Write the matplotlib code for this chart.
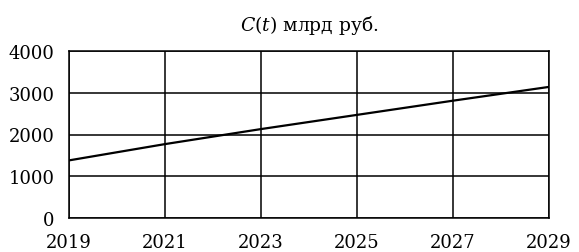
import matplotlib
matplotlib.use('Agg')
import matplotlib.pyplot as plt

years = [2019, 2021, 2023, 2025, 2027, 2029]
cost = [1380, 1770, 2130, 2470, 2810, 3140]
x_ticks = [2019, 2021, 2023, 2025, 2027, 2029]
y_ticks = [0, 1000, 2000, 3000, 4000]

plt.rcParams['font.family'] = 'DejaVu Serif'
plt.rcParams['mathtext.fontset'] = 'dejavuserif'

fig = plt.figure(figsize=(5.79, 2.53), dpi=100)
ax = fig.add_axes([69/579, 1 - 219/253, 480/579, 167/253])

ax.plot(years, cost, color='black', lw=1.6, zorder=3)
ax.set_xlim(2019, 2029)
ax.set_ylim(0, 4000)
ax.set_xticks(x_ticks)
ax.set_yticks(y_ticks)
ax.grid(True, color='black', lw=1.1)
for s in ax.spines.values():
    s.set_linewidth(1.1)
ax.tick_params(length=0, labelsize=13)
ax.tick_params(axis='x', pad=10.5)
ax.tick_params(axis='y', pad=10.5)
ax.set_title(r'$C(t)$ млрд руб.', fontsize=13.5, pad=15)

fig.savefig('out.png', dpi=100)
